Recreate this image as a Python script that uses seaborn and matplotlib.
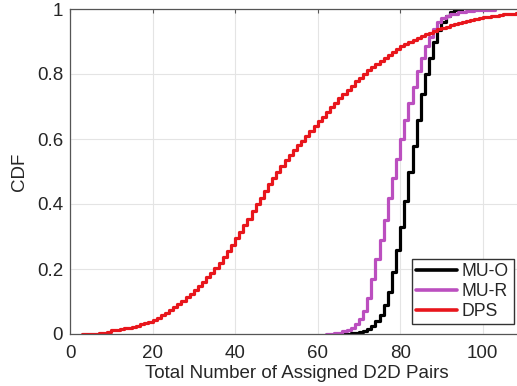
import matplotlib
matplotlib.use("Agg")
import matplotlib.pyplot as plt
import seaborn as sns
import pandas as pd

# Empirical CDF of the number of assigned D2D pairs (step values)
mu_o_x = [66, 68, 70, 71, 72, 73, 74, 75, 76, 77, 78, 79, 80, 81, 82, 83,
          84, 85, 86, 87, 88, 89, 90, 91, 92, 93, 95]
mu_o_cdf = [0.0, 0.002, 0.006, 0.010, 0.015, 0.025, 0.040, 0.060, 0.090,
            0.130, 0.190, 0.260, 0.330, 0.410, 0.500, 0.580, 0.660, 0.740,
            0.800, 0.850, 0.900, 0.935, 0.960, 0.980, 0.990, 0.996, 1.0]

mu_r_x = [62, 64, 66, 67, 68, 69, 70, 71, 72, 73, 74, 75, 76, 77, 78, 79,
          80, 81, 82, 83, 84, 85, 86, 87, 88, 89, 90, 91, 92, 94, 96, 98,
          100, 103]
mu_r_cdf = [0.0, 0.003, 0.008, 0.013, 0.020, 0.030, 0.045, 0.070, 0.110,
            0.170, 0.230, 0.290, 0.350, 0.420, 0.480, 0.540, 0.600, 0.660,
            0.710, 0.760, 0.810, 0.850, 0.885, 0.915, 0.940, 0.960, 0.972,
            0.980, 0.986, 0.990, 0.994, 0.996, 0.998, 1.0]

dps_x = [3, 4, 5, 6, 7, 8, 9, 10, 11, 12, 13, 14, 15, 16, 17, 18, 19, 20,
         21, 22, 23, 24, 25, 26, 27, 28, 29, 30, 31, 32, 33, 34, 35, 36, 37,
         38, 39, 40, 41, 42, 43, 44, 45, 46, 47, 48, 49, 50, 51, 52, 53, 54,
         55, 56, 57, 58, 59, 60, 61, 62, 63, 64, 65, 66, 67, 68, 69, 70, 71,
         72, 73, 74, 75, 76, 77, 78, 79, 80, 81, 82, 83, 84, 85, 86, 87, 88,
         89, 90, 91, 92, 93, 94, 95, 96, 97, 98, 99, 100, 101, 102, 103, 104,
         105, 106, 107, 108, 109, 110]
dps_cdf = [0.000, 0.000, 0.000, 0.001, 0.002, 0.004, 0.007, 0.011, 0.013,
           0.015, 0.017, 0.019, 0.022, 0.026, 0.030, 0.034, 0.038, 0.043,
           0.050, 0.057, 0.065, 0.074, 0.084, 0.093, 0.103, 0.113, 0.124,
           0.135, 0.148, 0.161, 0.175, 0.189, 0.204, 0.220, 0.237, 0.255,
           0.274, 0.294, 0.314, 0.334, 0.355, 0.377, 0.399, 0.420, 0.441,
           0.461, 0.481, 0.500, 0.518, 0.535, 0.551, 0.566, 0.581, 0.595,
           0.610, 0.625, 0.640, 0.655, 0.669, 0.683, 0.697, 0.711, 0.725,
           0.738, 0.751, 0.764, 0.777, 0.789, 0.800, 0.811, 0.821, 0.831,
           0.840, 0.850, 0.860, 0.869, 0.878, 0.887, 0.893, 0.899, 0.905,
           0.911, 0.917, 0.922, 0.927, 0.932, 0.937, 0.942, 0.946, 0.950,
           0.954, 0.958, 0.961, 0.964, 0.967, 0.970, 0.972, 0.974, 0.976,
           0.978, 0.980, 0.982, 0.984, 0.985, 0.986, 0.987, 0.988, 0.989]

series_names = ["MU-O", "MU-R", "DPS"]
series_colors = ["#000000", "#bb4fbf", "#e8161c"]

x_ticks = [0, 20, 40, 60, 80, 100]
x_tick_labels = ["0", "20", "40", "60", "80", "100"]
y_ticks = [0, 0.2, 0.4, 0.6, 0.8, 1.0]
y_tick_labels = ["0", "0.2", "0.4", "0.6", "0.8", "1"]

sns.set_theme(style="whitegrid")
plt.rcParams["font.family"] = ["Liberation Sans", "DejaVu Sans"]
text_color = "#262626"

fig = plt.figure(figsize=(5.17, 3.86), dpi=100)
ax = fig.add_axes([70 / 517, 52 / 386, 454 / 517, 325 / 386])
ax.set_facecolor("white")

frames = [
    pd.DataFrame({"pairs": mu_o_x, "cdf": mu_o_cdf}),
    pd.DataFrame({"pairs": mu_r_x, "cdf": mu_r_cdf}),
    pd.DataFrame({"pairs": dps_x, "cdf": dps_cdf}),
]
for df, name, col in zip(frames, series_names, series_colors):
    sns.lineplot(data=df, x="pairs", y="cdf", ax=ax, color=col, lw=2.3,
                 drawstyle="steps-post", label=name, sort=True,
                 estimator=None)

ax.set_xlim(0, 110)
ax.set_ylim(0, 1)
ax.set_xticks(x_ticks)
ax.set_xticklabels(x_tick_labels)
ax.set_yticks(y_ticks)
ax.set_yticklabels(y_tick_labels)

ax.grid(True, color="#e4e4e4", lw=0.8)
for side in ["left", "bottom", "top", "right"]:
    ax.spines[side].set_visible(True)
    ax.spines[side].set_color("#555555")
    ax.spines[side].set_linewidth(0.9)

ax.tick_params(axis="both", direction="in", length=3, width=0.8,
               colors="#555555", labelcolor=text_color, labelsize=13.5,
               top=True, right=True)
ax.tick_params(axis="x", pad=8)
ax.tick_params(axis="y", pad=5)

ax.set_xlabel("Total Number of Assigned D2D Pairs", fontsize=13.5,
              color=text_color, labelpad=2)
ax.set_ylabel("CDF", fontsize=13.5, color=text_color, labelpad=6)

leg = ax.legend(loc="upper left", bbox_to_anchor=(411.7 / 517, 1 - 259 / 386),
                bbox_transform=fig.transFigure, fontsize=12.7, frameon=True,
                fancybox=False, framealpha=1, edgecolor="#333333",
                handlelength=2.3, handletextpad=0.3, borderpad=0.25,
                labelspacing=0.15, borderaxespad=0)
leg.get_frame().set_linewidth(1.0)
for line in leg.get_lines():
    line.set_linewidth(2.6)
for t in leg.get_texts():
    t.set_color(text_color)

fig.savefig("out.png", dpi=100)
